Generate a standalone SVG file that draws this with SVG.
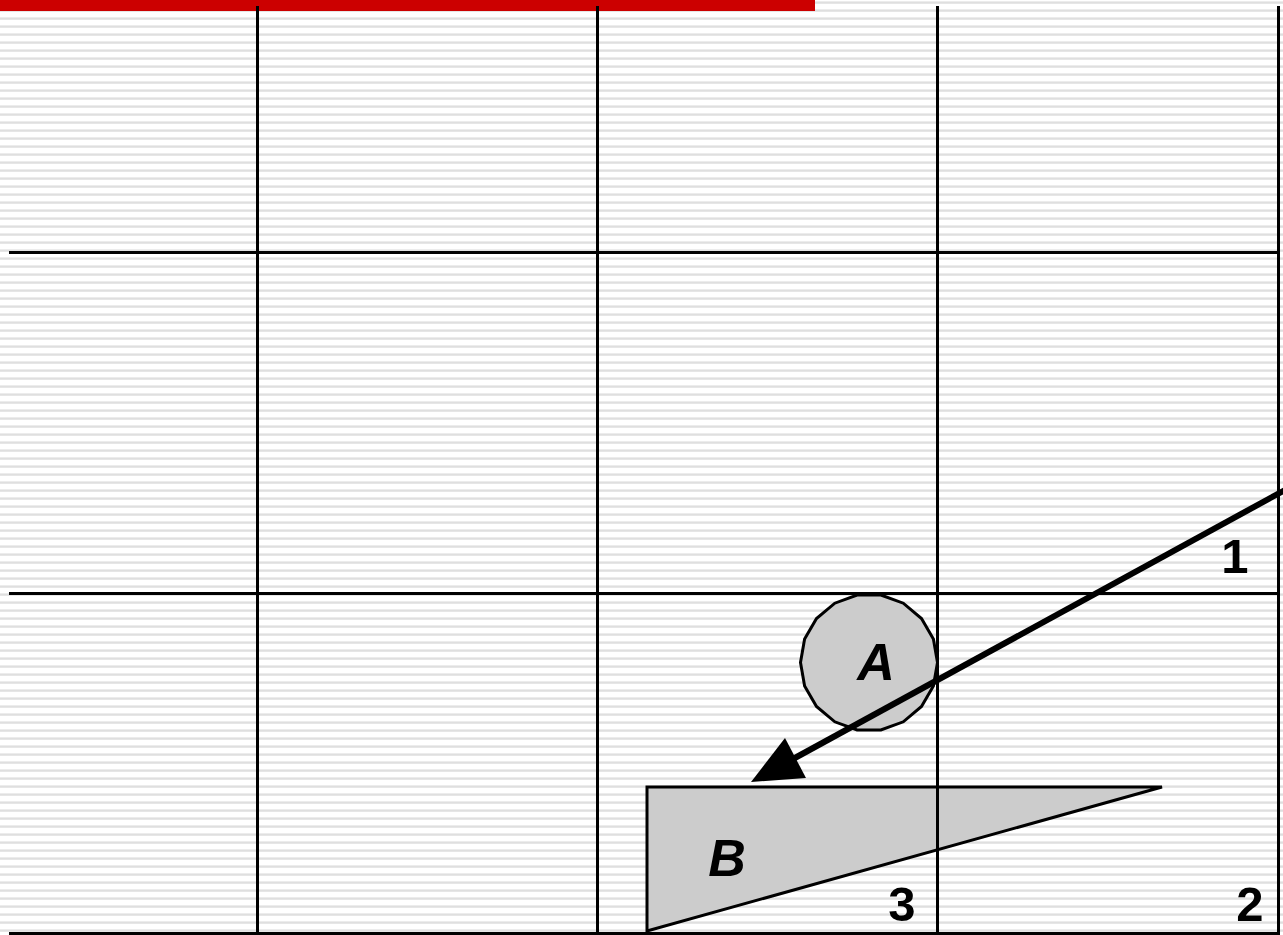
<svg xmlns="http://www.w3.org/2000/svg" width="1283" height="935" viewBox="0 0 1283 935">
  <defs>
    <pattern id="stripes" patternUnits="userSpaceOnUse" x="0" y="0" width="16" height="8">
      <rect x="0" y="0" width="16" height="8" fill="#ffffff"/>
      <rect x="0" y="1" width="16" height="1" fill="#ececec"/>
      <rect x="0" y="2" width="16" height="1" fill="#dfdfdf"/>
      <rect x="0" y="3" width="16" height="1" fill="#e6e6e6"/>
    </pattern>
    <style>
      .grid { stroke: #000; stroke-width: 3; fill: none; }
      .shape { fill: #cccccc; stroke: #000; stroke-width: 3; stroke-linejoin: miter; }
      .lbl { font-family: "Liberation Sans", Arial, sans-serif; font-weight: bold; font-size: 49px; fill: #000; text-anchor: middle; }
      .it { font-style: italic; font-size: 52px; }
    </style>
  </defs>

  <rect x="0" y="0" width="1283" height="935" fill="url(#stripes)"/>
  <rect x="0" y="0" width="815" height="11" fill="#cc0000"/>

  <g id="B">
    <polygon class="shape" points="647,787 1162,787 647,931"/>
    <text class="lbl it" x="727" y="876">B</text>
  </g>

  <g id="A">
    <polygon class="shape" points="880.9,595 903.3,603.2 921.5,618.5 933.4,639.1 937.5,662.5 933.4,685.9 921.5,706.5 903.3,721.8 880.9,730 857.1,730 834.8,721.8 816.5,706.5 804.6,685.9 800.5,662.5 804.6,639.1 816.5,618.5 834.8,603.2 857.1,595"/>
    <text class="lbl it" x="876" y="680">A</text>
  </g>

  <g id="grid">
    <line class="grid" x1="257.5" y1="6" x2="257.5" y2="935"/>
    <line class="grid" x1="597.5" y1="6" x2="597.5" y2="935"/>
    <line class="grid" x1="937.5" y1="6" x2="937.5" y2="935"/>
    <line class="grid" x1="1278.5" y1="6" x2="1278.5" y2="935"/>
    <line class="grid" x1="9" y1="252.5" x2="1280" y2="252.5"/>
    <line class="grid" x1="9" y1="593.5" x2="1280" y2="593.5"/>
    <line class="grid" x1="9" y1="933.5" x2="1280" y2="933.5"/>
  </g>

  <g id="connectors">
    <line x1="1285" y1="490" x2="793" y2="759" stroke="#000" stroke-width="6"/>
    <polygon points="751,782 785,738 806,778" fill="#000"/>
  </g>

  <g id="labels">
    <text class="lbl" x="1235" y="573">1</text>
    <text class="lbl" x="902" y="921">3</text>
    <text class="lbl" x="1250" y="921">2</text>
  </g>
</svg>
